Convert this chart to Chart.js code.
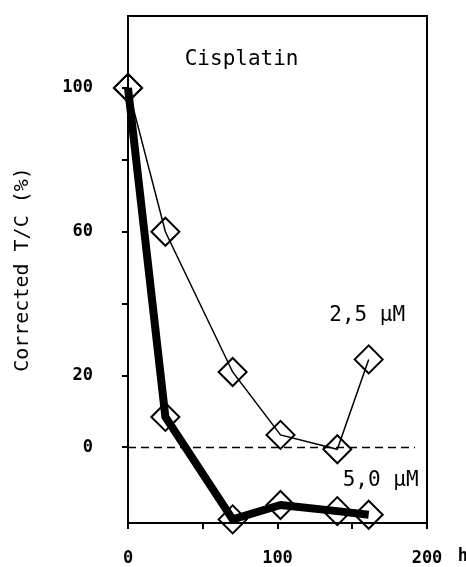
<!DOCTYPE html>
<html>
<head>
<meta charset="utf-8">
<script src="https://cdn.jsdelivr.net/npm/chart.js@4.4.1/dist/chart.umd.min.js"></script>
<style>
  body { margin: 0; background: #fff; }
  #wrap { width: 466px; height: 567px; }
</style>
</head>
<body>
<div id="wrap"><canvas id="chart"></canvas></div>
<script>
// data
const hours = [0, 25, 70, 102, 140, 161];
const dose25 = [100, 60, 21, 3.5, -0.5, 24.5];
const dose50 = [100, 8.5, -20, -16, -17.7, -18.7];
const zeroHours = [0, 192];
const zeroValues = [0, 0];

const xTicks = [0, 50, 100, 150, 200];
const xTickLabels = ['0', '', '100', '', '200'];
const yTicks = [0, 20, 40, 60, 80, 100];
const yTickLabels = ['0', '20', '', '60', '', '100'];

const toPoints = (xs, ys) => xs.map((x, i) => ({ x: x, y: ys[i] }));

const monoFont = '"DejaVu Sans Mono", monospace';

// frame on top/right and the text inside the plot
const extras = {
    id: 'extras',
    afterDraw(chart) {
        const { ctx, chartArea: area, scales: { x, y } } = chart;
        ctx.save();
        ctx.strokeStyle = '#000';
        ctx.lineWidth = 2;
        ctx.beginPath();
        ctx.moveTo(area.left, area.top);
        ctx.lineTo(area.right, area.top);
        ctx.lineTo(area.right, area.bottom);
        ctx.stroke();

        ctx.fillStyle = '#000';
        ctx.textAlign = 'center';
        ctx.textBaseline = 'middle';
        ctx.font = '21px ' + monoFont;
        ctx.fillText('Cisplatin', x.getPixelForValue(76), y.getPixelForValue(108));
        ctx.fillText('2,5 µM', x.getPixelForValue(160), y.getPixelForValue(36.6));
        ctx.fillText('5,0 µM', x.getPixelForValue(169), y.getPixelForValue(-9.3));
        ctx.font = 'bold 17px ' + monoFont;
        ctx.fillText('h', x.getPixelForValue(224), 557);
        ctx.restore();
    }
};

const config = {
    type: 'line',
    data: {
        datasets: [
            {
                label: '2,5 µM',
                data: toPoints(hours, dose25),
                borderColor: '#000',
                borderWidth: 1.5,
                pointStyle: 'rectRot',
                pointRadius: 14,
                pointBorderWidth: 2,
                pointBorderColor: '#000',
                pointBackgroundColor: 'rgba(0,0,0,0)',
                tension: 0,
                clip: false
            },
            {
                label: '5,0 µM',
                data: toPoints(hours, dose50),
                borderColor: '#000',
                borderWidth: 8,
                borderJoinStyle: 'round',
                pointStyle: 'rectRot',
                pointRadius: 14,
                pointBorderWidth: 2,
                pointBorderColor: '#000',
                pointBackgroundColor: 'rgba(0,0,0,0)',
                tension: 0,
                clip: false
            },
            {
                label: 'zero',
                data: toPoints(zeroHours, zeroValues),
                borderColor: '#000',
                borderWidth: 1.5,
                borderDash: [8, 5],
                pointRadius: 0
            }
        ]
    },
    options: {
        responsive: true,
        maintainAspectRatio: false,
        animation: false,
        layout: { padding: { top: 15, right: 39, left: 0, bottom: 0 } },
        plugins: {
            legend: { display: false },
            tooltip: { enabled: false }
        },
        scales: {
            x: {
                type: 'linear',
                min: 0,
                max: 200,
                afterBuildTicks: (axis) => { axis.ticks = xTicks.map(v => ({ value: v })); },
                afterFit: (axis) => { axis.height = 44; },
                ticks: {
                    color: '#000',
                    font: { family: monoFont, size: 17, weight: 'bold' },
                    padding: 19,
                    maxRotation: 0,
                    autoSkip: false,
                    callback: (value, index) => xTickLabels[index]
                },
                grid: {
                    drawOnChartArea: false,
                    drawTicks: true,
                    tickLength: 6,
                    color: '#000',
                    lineWidth: 2
                },
                border: { display: true, color: '#000', width: 2 }
            },
            y: {
                type: 'linear',
                min: -21,
                max: 120,
                afterBuildTicks: (axis) => { axis.ticks = yTicks.map(v => ({ value: v })); },
                afterFit: (axis) => {
                    axis.width = 128;
                    axis.paddingTop = 0;
                    axis.paddingBottom = 0;
                },
                ticks: {
                    color: '#000',
                    font: { family: monoFont, size: 17, weight: 'bold' },
                    padding: 29,
                    autoSkip: false,
                    callback: (value, index) => yTickLabels[index]
                },
                grid: {
                    drawOnChartArea: false,
                    drawTicks: true,
                    tickLength: 6,
                    color: '#000',
                    lineWidth: 2
                },
                border: { display: true, color: '#000', width: 2 },
                title: {
                    display: true,
                    text: 'Corrected T/C (%)',
                    color: '#000',
                    font: { family: monoFont, size: 20 },
                    padding: { top: 11, bottom: 0 }
                }
            }
        }
    },
    plugins: [extras]
};

new Chart(document.getElementById('chart'), config);
</script>
</body>
</html>
